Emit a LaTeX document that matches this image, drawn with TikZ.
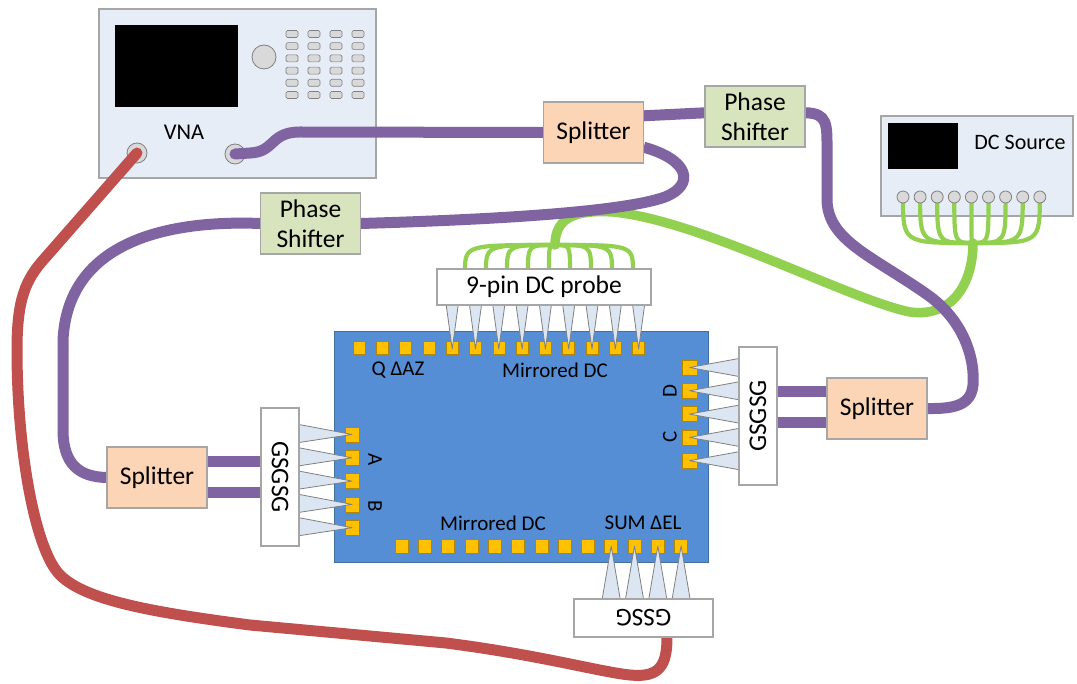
\documentclass[tikz,border=0pt]{standalone}
\usepackage{fontspec}
\setmainfont{Carlito}
\usetikzlibrary{calc}

\definecolor{boxline}{HTML}{A6A6A6}
\definecolor{instfill}{HTML}{E7EDF7}
\definecolor{splitfill}{HTML}{FBD5B5}
\definecolor{phasefill}{HTML}{D7E4BD}
\definecolor{coaxpurple}{HTML}{8064A2}
\definecolor{coaxred}{HTML}{C0504D}
\definecolor{dcgreen}{HTML}{92D050}
\definecolor{chipblue}{HTML}{558ED5}
\definecolor{chipedge}{HTML}{41719C}
\definecolor{padgold}{HTML}{FFC000}
\definecolor{padedge}{HTML}{B08600}
\definecolor{tipfill}{HTML}{DCE6F2}
\definecolor{tipedge}{HTML}{808080}
\definecolor{knobfill}{HTML}{D9D9D9}

\tikzset{
  bigtext/.style={font=\fontsize{25.5}{30}\selectfont},
  smalltext/.style={font=\fontsize{21}{25}\selectfont},
  instbox/.style={draw=boxline, fill=instfill, line width=1.2pt},
  compbox/.style={draw=boxline, line width=1.2pt, inner sep=0pt, align=center, bigtext},
  splitbox/.style={compbox, fill=splitfill, minimum width=100pt, minimum height=61pt},
  phasebox/.style={compbox, fill=phasefill, minimum width=100pt, minimum height=61pt},
  probebox/.style={compbox, fill=white},
  portdot/.style={draw=tipedge, fill=knobfill, line width=0.8pt},
  keybtn/.style={draw=tipedge, fill=knobfill, line width=0.6pt, rounded corners=1.5pt},
  pad/.style={draw=padedge, fill=padgold, line width=0.6pt},
  tip/.style={draw=tipedge, fill=tipfill, line width=0.8pt, line join=round},
  purplecable/.style={draw=coaxpurple, line width=11pt},
  redcable/.style={draw=coaxred, line width=11pt},
  greencable/.style={draw=dcgreen, line width=9.5pt},
  greenwire/.style={draw=dcgreen, line width=4.2pt},
  chiplabel/.style={smalltext, inner sep=0pt}
}

\begin{document}
\begin{tikzpicture}[x=1pt, y=-1pt]
\useasboundingbox[fill=white] (0,0) rectangle (1077,684);

% ---------------- VNA ----------------
\draw[instbox] (99,9) rectangle (376,178);
\fill[black] (115,25) rectangle (238,107);
\draw[portdot] (264,57) circle (12);
\foreach \c in {0,...,3}
  \foreach \r in {0,...,5}
    \draw[keybtn] (286+22*\c, 30.5+12.2*\r) rectangle ++(12,7);
\node[font=\fontsize{22.5}{27}\selectfont] (vnalabel) at (184,132) {VNA};
\node[portdot, circle, minimum size=20pt, inner sep=0pt] (vnaA) at (137,153) {};
\node[portdot, circle, minimum size=20pt, inner sep=0pt] (vnaB) at (235,154) {};

% ---------------- DC source ----------------
\draw[instbox] (881,116) rectangle (1073,216);
\fill[black] (888,123) rectangle (958,169);
\node[font=\fontsize{22}{26}\selectfont] (dclabel) at (1020,142) {DC Source};
\coordinate (dcmerge) at (973,243);
\foreach \i in {0,...,8} {
  \coordinate (dcpin\i) at (903+17.1*\i,197);
}

% ---------------- chip ----------------
\draw[draw=chipedge, fill=chipblue, line width=1pt] (334,332) rectangle (708,562);
% top pad row
\foreach \i in {0,...,12}
  \draw[pad] (353+23.3*\i,341) rectangle ++(12,13.5);
% bottom pad row
\foreach \i in {0,...,12}
  \draw[pad] (395+23.3*\i,539) rectangle ++(13,14);
% left pads (A, B)
\foreach \k in {0,...,4}
  \draw[pad] (345,427+23.3*\k) rectangle ++(14,15);
% right pads (C, D)
\foreach \k in {0,...,4}
  \draw[pad] (682,360+23.3*\k) rectangle ++(15,15);

\node[chiplabel] (lqaz) at (398,370) {Q ΔAZ};
\node[chiplabel] (lmirtop) at (555,370) {Mirrored DC};
\node[chiplabel] (lmirbot) at (493,523) {Mirrored DC};
\node[chiplabel] (lsum) at (643,523) {SUM ΔEL};
\node[chiplabel, rotate=-90] (lA) at (375,460) {A};
\node[chiplabel, rotate=-90] (lB) at (375,506) {B};
\node[chiplabel, rotate=90] (lD) at (670,391) {D};
\node[chiplabel, rotate=90] (lC) at (670,437) {C};

% ---------------- probe heads ----------------
\coordinate (dcprobeC) at (544,287);
\coordinate (gLC) at (280,477);
\coordinate (gRC) at (758,416);
\coordinate (gBC) at (643.5,618);

% probe needles
\foreach \i in {4,...,12}
  \draw[tip] (359+23.3*\i-6,305) -- (359+23.3*\i,349) -- (359+23.3*\i+6,305) -- cycle;
\foreach \k in {0,...,4}
  \draw[tip] (299,433.5+23.3*\k-9) -- (352,434.5+23.3*\k) -- (299,433.5+23.3*\k+9) -- cycle;
\foreach \k in {0,...,4}
  \draw[tip] (739,367.5+23.3*\k-9) -- (689.5,367.5+23.3*\k) -- (739,367.5+23.3*\k+9) -- cycle;
\foreach \i in {9,...,12}
  \draw[tip] (401.5+23.3*\i-9,599) -- (401.5+23.3*\i,546) -- (401.5+23.3*\i+9,599) -- cycle;

% ---------------- DC wiring ----------------
\coordinate (fanroot) at (555,245);
\foreach \i in {0,...,8}
  \draw[greenwire] (dcpin\i) .. controls (903+17.1*\i,243) .. (dcmerge);
\foreach \i in {0,...,8}
  \draw[greenwire] (fanroot) .. controls (465+21*\i,245) .. (465+21*\i,272);
\draw[greencable, line cap=round] (fanroot) .. controls (555,215) and (580,210) .. (613,212)
  .. controls (700,220) and (850,300) .. (910,312)
  .. controls (955,318) and (973,280) .. (dcmerge);
\foreach \i in {0,...,8}
  \draw[portdot] (dcpin\i) circle (6);

% ---------------- RF component boxes (named, drawn over the cables below) ----------------
\path (593.5,132.5) node[minimum width=100pt, minimum height=61pt] (spT) {}
      (755,116.5)   node[minimum width=100pt, minimum height=61pt] (psT) {}
      (310.5,223.5) node[minimum width=100pt, minimum height=61pt] (psL) {}
      (157,477.5)   node[minimum width=100pt, minimum height=61pt] (spL) {}
      (877,408.5)   node[minimum width=100pt, minimum height=61pt] (spR) {}
      (gLC) node[minimum width=38pt, minimum height=138pt] (gL) {}
      (gRC) node[minimum width=38pt, minimum height=138pt] (gR) {}
      (gBC) node[minimum width=139pt, minimum height=38pt] (gB) {};

% ---------------- RF cabling ----------------
\draw[purplecable, line cap=round] (vnaB.center) -- (250,153) .. controls (275,152) and (270,132) .. (300,132) -- (spT.west);
\draw[purplecable] ($(spT.north east)+(0,14)$) -- ($(psT.north west)+(0,27)$);
\draw[purplecable] ($(psT.north east)+(0,27)$) .. controls (828,113) and (827,125) .. (827,150) -- (827,200)
  .. controls (828,240) and (870,255) .. (925,293)
  .. controls (965,320) and (975,360) .. (973,385)
  .. controls (971,405) and (955,409) .. (spR.east);
\draw[purplecable] ($(spT.south east)+(0,-16)$) .. controls (690,160) and (695,185) .. (665,197)
  .. controls (620,213) and (480,220) .. (psL.east);
\draw[purplecable] (psL.west) .. controls (170,220) and (68,240) .. (63,340) -- (63,430)
  .. controls (63,465) and (80,477) .. (spL.west);
\draw[purplecable] ($(spL.east)+(0,-15.5)$) -- ($(gL.west)+(0,-15)$);
\draw[purplecable] ($(spL.east)+(0,15.5)$) -- ($(gL.west)+(0,16)$);
\draw[purplecable] ($(gR.east)+(0,-24)$) -- ($(spR.west)+(0,-16.5)$);
\draw[purplecable] ($(gR.east)+(0,7)$) -- ($(spR.west)+(0,14.5)$);
\draw[redcable, line cap=round] (vnaA.center) -- (45,258) .. controls (25,280) and (17,300) .. (17,350)
  .. controls (17,450) and (35,550) .. (60,575)
  .. controls (85,600) and (150,612) .. (250,625) -- (446,643)
  .. controls (540,655) and (600,672) .. (630,675)
  .. controls (660,678) and (667,665) .. ($(gB.south)+(23.5,0)$);

% boxes over the cable ends
\node[splitbox] at (spT.center) {Splitter};
\node[phasebox] at (psT.center) {Phase\\Shifter};
\node[phasebox] at (psL.center) {Phase\\Shifter};
\node[splitbox] at (spL.center) {Splitter};
\node[splitbox] at (spR.center) {Splitter};
\node[probebox, minimum width=38pt, minimum height=138pt] at (gL.center) {};
\node[bigtext, rotate=-90, inner sep=0pt] (gLtext) at (gL.center) {GSGSG};
\node[probebox, minimum width=38pt, minimum height=138pt] at (gR.center) {};
\node[bigtext, rotate=90, inner sep=0pt] (gRtext) at (gR.center) {GSGSG};
\node[probebox, minimum width=139pt, minimum height=38pt] at (gB.center) {};
\node[bigtext, rotate=180, inner sep=0pt] (gBtext) at (gB.center) {GSSG};
\node[probebox, minimum width=214pt, minimum height=36pt] (dcprobe) at (dcprobeC) {9-pin DC probe};

\end{tikzpicture}
\end{document}
